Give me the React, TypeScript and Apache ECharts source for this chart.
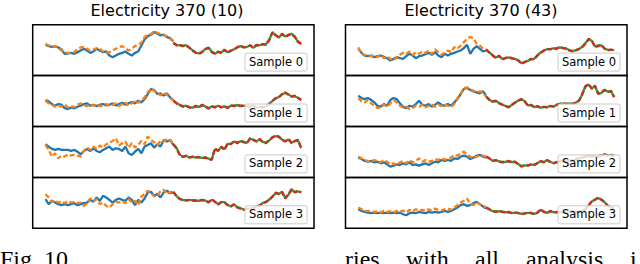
import React, { useEffect, useRef } from "react";
import * as echarts from "echarts";

// ---- texts ----
const columnTitles = ["Electricity 370 (10)", "Electricity 370 (43)"];
const sampleLabels = ["Sample 0", "Sample 1", "Sample 2", "Sample 3"];
const captionLeft = "Fig. 10";
const captionRightWords = ["ries", "with", "all", "analysis", "i"];

// ---- data (history: steps 0..40, forecast: steps 40..80), arbitrary units ----
// Left column: Electricity 370 (10)
const l0Blue = [92,88,86,87,84,78,65,66,68,65,70,75,80,75,68,72,80,75,70,72,60,55,60,65,68,72,65,60,68,72,90,108,118,122,130,125,120,122,115,112,102];
const l0Orange = [95,90,87,88,82,75,70,68,68,70,78,84,85,80,74,78,82,80,72,68,70,76,80,85,88,82,75,80,88,92,98,115,122,124,132,128,124,120,118,110,104];
const l0Green = [98,92,90,89,91,83,76,69,66,71,79,84,72,66,70,69,76,70,74,79,84,88,85,85,91,83,90,91,93,94,108,128,122,113,125,117,120,125,117,100,95];
const l0Red = [98,90,92,88,90,84,74,68,65,70,80,82,70,65,72,68,78,68,75,78,85,90,84,86,90,84,92,90,94,92,105,130,120,115,124,115,122,124,115,102,94];

const l1Blue = [79,75,67,62,67,65,55,52,57,54,59,62,67,69,62,65,61,65,67,63,65,69,63,67,71,65,69,73,69,77,72,82,97,112,109,97,99,92,99,87,79];
const l1Orange = [77,69,65,59,63,59,65,57,61,57,65,69,63,61,67,62,65,61,63,67,61,65,69,61,67,71,63,69,77,71,77,87,102,113,107,99,93,101,95,85,77];
const l1Green = [77,70,64,60,62,58,56,60,58,64,60,55,60,58,62,58,60,56,62,62,64,62,62,60,60,62,58,58,58,60,68,76,84,88,96,100,96,90,90,86,80];
const l1Red = [77,69,65,59,61,57,55,62,57,65,59,53,61,57,63,57,61,55,63,61,65,61,63,61,59,61,57,59,57,61,67,77,85,87,97,102,95,89,92,85,79];

const l2Blue = [99,92,85,82,85,82,82,82,79,82,77,69,79,85,79,87,79,75,82,87,92,82,87,85,79,92,72,67,77,85,72,92,97,102,89,99,92,112,107,112,97];
const l2Orange = [97,82,62,72,57,65,62,69,65,67,65,62,79,89,82,92,85,95,89,99,102,109,117,95,102,107,89,102,89,97,109,99,122,112,105,97,109,107,115,112,99];
const l2Green = [99,88,68,62,64,60,61,60,60,58,60,56,54,84,80,90,84,100,100,107,104,108,106,103,115,113,108,113,106,104,110,120,123,121,113,108,113,104,108,110,88];
const l2Red = [99,87,67,61,65,59,62,59,61,57,59,55,52,87,79,92,82,102,99,109,102,109,105,102,117,112,107,115,105,102,112,119,125,122,112,107,115,102,109,112,87];

const l3Blue = [87,72,82,77,72,69,72,69,72,75,69,72,75,77,85,79,92,82,97,92,85,77,85,89,85,82,92,85,69,85,77,89,107,109,97,102,92,107,112,105,107];
const l3Orange = [102,92,79,83,77,81,75,81,77,79,75,77,67,75,89,82,87,72,77,67,62,72,79,77,81,75,87,77,82,69,95,102,112,107,95,97,112,115,102,109,107];
const l3Green = [109,96,88,84,84,84,84,83,82,84,83,78,85,80,72,78,78,70,66,71,63,60,56,58,58,60,66,68,76,78,86,94,105,103,108,91,100,115,109,110,108];
const l3Red = [109,95,87,85,83,85,83,82,83,85,82,77,87,79,71,79,77,69,65,72,62,59,55,59,57,61,65,69,75,79,85,95,107,102,109,89,102,117,107,112,107];

// Right column: Electricity 370 (43)
const r0Blue = [80,68,60,58,60,55,58,60,56,52,45,50,55,52,50,58,65,60,52,58,60,64,68,62,70,60,55,65,60,65,68,72,75,82,92,65,80,88,80,72,75];
const r0Orange = [85,65,62,60,58,60,55,62,52,58,50,45,55,62,68,65,72,62,70,65,72,68,75,65,78,70,62,68,75,70,85,80,90,100,110,115,112,95,90,80,78];
const r0Green = [78,69,61,54,58,50,53,54,51,50,46,37,41,44,49,50,61,69,74,79,79,81,82,84,83,81,76,73,76,79,86,97,108,104,87,90,90,81,77,77,76];
const r0Red = [78,68,60,52,60,48,52,55,52,50,45,35,40,45,50,48,60,68,75,80,78,82,80,85,82,80,75,72,75,80,85,95,110,105,85,88,92,80,75,78,75];

const r1Blue = [92,85,82,85,79,72,62,59,67,62,79,85,82,69,59,55,62,59,67,77,65,62,67,59,65,72,65,62,67,62,72,82,97,112,115,109,105,102,99,105,92];
const r1Orange = [85,75,72,79,69,62,55,57,65,59,69,79,72,62,57,59,52,55,62,59,65,57,62,65,59,65,61,67,62,59,67,85,99,115,117,112,107,102,105,99,89];
const r1Green = [89,80,74,76,70,66,61,58,64,71,78,80,76,63,64,58,60,56,58,58,61,60,64,68,68,68,68,68,71,78,95,121,125,114,120,99,100,110,104,105,88];
const r1Red = [89,79,75,77,69,65,62,57,65,72,77,82,75,62,65,57,61,55,59,57,62,59,65,67,69,67,69,67,72,77,97,119,127,112,122,97,102,109,102,107,87];

const r2Blue = [59,55,49,47,49,45,47,42,45,39,32,35,39,37,42,39,45,37,39,35,39,42,37,42,47,45,52,49,52,49,57,55,62,65,62,55,59,65,67,62,59];
const r2Orange = [62,57,52,49,47,52,49,45,52,47,39,42,37,45,49,42,52,45,49,57,47,52,47,49,55,52,57,53,55,59,67,65,72,77,67,62,57,62,67,65,62];
const r2Green = [62,56,50,51,48,46,46,48,46,46,40,34,36,36,38,38,43,48,46,51,46,43,46,46,48,48,50,51,54,56,60,61,64,63,64,63,66,68,66,66,64];
const r2Red = [62,57,49,52,47,45,47,49,45,47,39,32,37,35,39,37,42,49,45,52,47,42,45,47,49,47,49,52,55,57,59,62,65,62,65,62,67,69,65,67,65];

const r3Blue = [57,52,49,47,45,47,45,47,45,47,45,47,45,47,42,39,45,47,45,49,47,45,49,47,49,47,49,52,49,52,57,62,69,72,67,69,75,79,72,65,59];
const r3Orange = [62,57,52,51,52,49,51,47,52,49,51,47,52,49,53,47,55,51,57,53,55,52,57,53,59,55,53,57,59,55,62,69,77,82,89,72,69,77,72,67,62];
const r3Green = [62,56,51,50,51,50,48,48,46,46,46,43,44,46,46,43,46,55,50,46,51,48,48,48,48,48,51,50,48,48,53,58,69,80,86,90,86,78,68,63,60];
const r3Red = [62,57,52,49,52,49,47,49,45,47,45,42,45,47,45,42,47,57,49,45,52,47,49,47,49,47,52,49,47,49,52,57,67,82,85,92,85,77,67,62,59];

const panelData = [
  [l0Blue, l0Orange, l0Green, l0Red],
  [l1Blue, l1Orange, l1Green, l1Red],
  [l2Blue, l2Orange, l2Green, l2Red],
  [l3Blue, l3Orange, l3Green, l3Red],
  [r0Blue, r0Orange, r0Green, r0Red],
  [r1Blue, r1Orange, r1Green, r1Red],
  [r2Blue, r2Orange, r2Green, r2Red],
  [r3Blue, r3Orange, r3Green, r3Red],
];

// ---- layout / style ----
const colLeft = [32.7, 345.5];
const colWidth = [281.3, 281.5];
const rowTop = [24.7, 75.6, 126.5, 177.4];
const rowHeight = 50.9;
const titleX = [167, 481];
const captionWordX = [345, 406, 475, 526, 630];
const colors = ["#1f77b4", "#ff7f0e", "#2ca02c", "#d62728"];

export default function App() {
  const ref = useRef<HTMLDivElement>(null);
  useEffect(() => {
    if (!ref.current) return;
    const chart = echarts.init(ref.current, null, { renderer: "svg" });
    const grids: any[] = [];
    const xAxes: any[] = [];
    const yAxes: any[] = [];
    const series: any[] = [];
    const graphics: any[] = [];
    const histLen = l0Blue.length;
    const lastIdx = histLen * 2 - 2;
    panelData.forEach((sets, p) => {
      const col = Math.floor(p / 4);
      const row = p % 4;
      grids.push({
        left: colLeft[col], top: rowTop[row], width: colWidth[col], height: rowHeight,
        show: true, borderColor: "#000", borderWidth: 1.5, backgroundColor: "transparent",
      });
      xAxes.push({
        type: "value", gridIndex: p, min: -0.05 * lastIdx, max: 1.05 * lastIdx,
        axisLine: { show: false }, axisTick: { show: false }, axisLabel: { show: false }, splitLine: { show: false },
      });
      yAxes.push({
        type: "value", gridIndex: p, min: 0, max: 152,
        axisLine: { show: false }, axisTick: { show: false }, axisLabel: { show: false }, splitLine: { show: false },
      });
      sets.forEach((arr, s) => {
        const offset = s < 2 ? 0 : histLen - 1;
        series.push({
          type: "line", xAxisIndex: p, yAxisIndex: p,
          data: arr.map((v, i) => [i + offset, v]),
          symbol: "none", showSymbol: false, silent: true, z: 2 + s,
          lineStyle: { color: colors[s], width: 2.3, type: s % 2 === 1 ? [5, 2.5] : "solid" },
        });
      });
      const boxW = 62, boxH = 18;
      const bx = colLeft[col] + colWidth[col] - 7 - boxW;
      const by = rowTop[row] + rowHeight - 4.5 - boxH;
      graphics.push({
        type: "rect", z: 100,
        shape: { x: bx, y: by, width: boxW, height: boxH, r: 2 },
        style: { fill: "rgba(255,255,255,0.8)", stroke: "#cccccc", lineWidth: 1 },
      });
      graphics.push({
        type: "text", z: 101, x: bx + boxW / 2, y: by + boxH / 2 - 0.5,
        style: { text: sampleLabels[row], fill: "#000", font: '11.5px "DejaVu Sans"', align: "center", verticalAlign: "middle" },
      });
    });
    columnTitles.forEach((t, c) => {
      graphics.push({
        type: "text", z: 101, x: titleX[c], y: 10.5,
        style: { text: t, fill: "#000", font: '16px "DejaVu Sans"', align: "center", verticalAlign: "middle" },
      });
    });
    graphics.push({
      type: "text", z: 101, x: 0, y: 259,
      style: { text: captionLeft, fill: "#000", font: '24px "Liberation Serif"', align: "left", verticalAlign: "middle" },
    });
    captionRightWords.forEach((w, k) => {
      graphics.push({
        type: "text", z: 101, x: captionWordX[k], y: 259,
        style: { text: w, fill: "#000", font: '24px "Liberation Serif"', align: "left", verticalAlign: "middle" },
      });
    });
    chart.setOption({
      animation: false,
      grid: grids,
      xAxis: xAxes,
      yAxis: yAxes,
      series,
      graphic: graphics,
    });
    return () => chart.dispose();
  }, []);
  return <div ref={ref} style={{ position: "fixed", left: 0, top: 0, width: 640, height: 264, background: "#fff" }} />;
}
